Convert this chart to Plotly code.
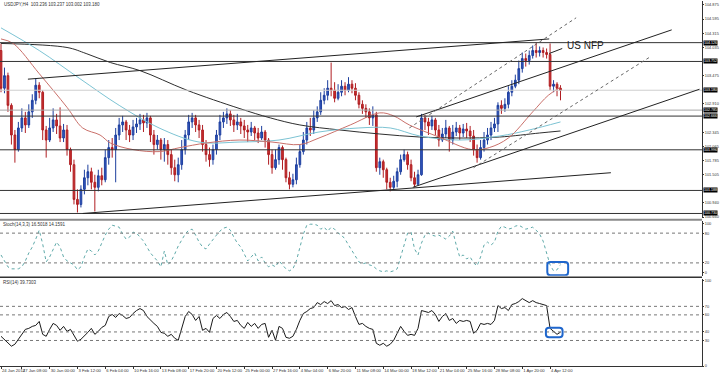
import plotly.graph_objects as go

W, H = 720, 377

# ---------------- price data (USDJPY H4, one candle per two H4 bars) ----------------
opens = [
    103.97, 103.22, 103.47, 102.88, 102.29, 102.00, 102.43, 102.63, 102.49, 102.75,
    102.98, 103.28, 103.14, 102.39, 102.19, 102.43, 102.59, 102.47, 102.23, 102.39,
    102.00, 101.70, 101.01, 100.91, 101.21, 101.44, 101.56, 101.35, 101.25, 101.48,
    101.40, 101.84, 102.04, 102.00, 102.29, 102.49, 102.55, 102.39, 102.29, 102.45,
    102.51, 102.59, 102.53, 102.63, 102.29, 102.10, 102.19, 102.00, 102.10, 101.90,
    101.64, 101.50, 101.70, 102.00, 102.29, 102.55, 102.63, 102.49, 102.39, 102.10,
    101.90, 101.80, 102.00, 102.29, 102.55, 102.63, 102.71, 102.59, 102.49, 102.55,
    102.47, 102.39, 102.35, 102.43, 102.33, 102.23, 102.35, 102.19, 101.90, 101.64,
    101.80, 102.04, 101.80, 101.44, 101.31, 101.40, 101.70, 101.96, 102.19, 102.43,
    102.39, 102.63, 102.75, 102.98, 103.08, 103.22, 103.18, 103.02, 103.14, 103.26,
    103.18, 103.30, 103.22, 103.08, 102.90, 102.82, 102.75, 102.63, 102.69, 101.64,
    101.76, 101.60, 101.35, 101.25, 101.37, 101.56, 101.80, 101.90, 101.70, 101.44,
    101.31, 101.50, 102.63, 102.55, 102.47, 102.59, 102.39, 102.19, 102.31, 102.43,
    102.19, 102.35, 102.43, 102.33, 102.41, 102.37, 102.27, 102.00, 101.84, 102.04,
    102.19, 102.29, 102.43, 102.51, 102.88, 102.82, 102.90, 103.14, 103.26, 103.38,
    103.61, 103.81, 103.77, 103.87, 103.97, 103.93, 103.97, 103.93, 103.89, 103.26,
    103.30, 103.22,
]
highs = [
    104.11, 103.63, 103.53, 102.92, 102.39, 102.55, 102.82, 102.75, 102.90, 103.10,
    103.42, 103.34, 103.18, 102.47, 102.63, 102.82, 102.71, 102.84, 102.51, 102.49,
    102.04, 101.80, 101.21, 101.29, 101.60, 101.70, 101.64, 101.50, 101.60, 101.64,
    102.00, 102.19, 102.23, 102.43, 102.63, 102.67, 102.59, 102.49, 102.59, 102.63,
    102.71, 102.69, 102.73, 102.67, 102.39, 102.29, 102.23, 102.23, 102.19, 102.00,
    101.80, 101.84, 102.19, 102.39, 102.69, 102.73, 102.69, 102.59, 102.49, 102.19,
    102.04, 102.10, 102.39, 102.69, 102.75, 102.82, 102.78, 102.69, 102.71, 102.63,
    102.59, 102.49, 102.55, 102.47, 102.43, 102.47, 102.39, 102.23, 102.00, 102.00,
    102.10, 102.08, 101.84, 101.56, 101.52, 101.84, 102.10, 102.35, 102.55, 102.63,
    102.78, 102.86, 103.14, 103.22, 103.38, 103.73, 103.34, 103.30, 103.38, 103.34,
    103.44, 103.38, 103.32, 103.14, 102.98, 102.90, 102.82, 102.86, 102.75, 101.84,
    101.80, 101.64, 101.44, 101.48, 101.64, 101.90, 102.00, 101.96, 101.80, 101.56,
    101.60, 102.71, 102.69, 102.63, 102.67, 102.63, 102.49, 102.43, 102.59, 102.47,
    102.49, 102.55, 102.49, 102.51, 102.53, 102.47, 102.39, 102.10, 102.19, 102.35,
    102.43, 102.55, 102.63, 102.94, 102.98, 103.02, 103.26, 103.38, 103.49, 103.77,
    103.93, 103.91, 103.97, 104.07, 104.13, 104.05, 104.03, 104.01, 104.11, 103.38,
    103.34, 103.28,
]
lows = [
    103.14, 103.12, 102.75, 102.10, 101.74, 101.96, 102.35, 102.33, 102.43, 102.63,
    102.90, 103.02, 102.19, 101.84, 102.15, 102.35, 102.31, 102.15, 102.15, 101.88,
    101.56, 100.91, 100.75, 100.85, 101.11, 101.29, 101.21, 100.77, 101.17, 101.29,
    101.35, 101.70, 101.84, 101.35, 102.19, 102.35, 102.19, 102.15, 102.19, 102.33,
    102.39, 102.35, 102.43, 102.15, 101.90, 102.00, 101.80, 101.76, 101.70, 101.50,
    101.37, 101.35, 101.60, 101.90, 102.19, 102.43, 102.35, 102.23, 101.96, 101.76,
    101.66, 101.70, 101.90, 102.19, 102.43, 102.51, 102.47, 102.35, 102.39, 102.31,
    102.23, 102.15, 102.27, 102.19, 102.13, 102.19, 102.04, 101.70, 101.52, 101.60,
    101.70, 101.60, 101.35, 101.21, 101.25, 101.31, 101.64, 101.90, 102.10, 102.27,
    102.31, 102.55, 102.69, 102.90, 102.98, 103.06, 102.94, 102.98, 103.06, 103.08,
    103.14, 103.12, 102.98, 102.82, 102.71, 102.63, 102.49, 102.47, 101.56, 101.50,
    101.44, 101.21, 101.17, 101.21, 101.25, 101.50, 101.76, 101.60, 101.37, 101.25,
    101.29, 101.48, 102.39, 102.29, 102.39, 102.29, 102.06, 102.15, 102.23, 101.96,
    102.10, 102.27, 102.19, 102.25, 102.23, 102.15, 101.88, 101.74, 101.80, 101.96,
    102.10, 102.19, 102.35, 102.35, 102.71, 102.75, 102.82, 103.06, 103.22, 103.30,
    103.53, 103.65, 103.69, 103.81, 103.83, 103.85, 103.83, 103.81, 103.18, 103.14,
    103.06, 102.98,
]
closes = [
    103.22, 103.47, 102.88, 102.29, 102.00, 102.43, 102.63, 102.49, 102.75, 102.98,
    103.28, 103.14, 102.39, 102.19, 102.43, 102.59, 102.47, 102.23, 102.39, 102.00,
    101.70, 101.01, 100.91, 101.21, 101.44, 101.56, 101.35, 101.25, 101.48, 101.40,
    101.84, 102.04, 102.00, 102.29, 102.49, 102.55, 102.39, 102.29, 102.45, 102.51,
    102.59, 102.53, 102.63, 102.29, 102.10, 102.19, 102.00, 102.10, 101.90, 101.64,
    101.50, 101.70, 102.00, 102.29, 102.55, 102.63, 102.49, 102.39, 102.10, 101.90,
    101.80, 102.00, 102.29, 102.55, 102.63, 102.71, 102.59, 102.49, 102.55, 102.47,
    102.39, 102.35, 102.43, 102.33, 102.23, 102.35, 102.19, 101.90, 101.64, 101.80,
    102.04, 101.80, 101.44, 101.31, 101.40, 101.70, 101.96, 102.19, 102.43, 102.39,
    102.63, 102.75, 102.98, 103.08, 103.22, 103.18, 103.02, 103.14, 103.26, 103.18,
    103.30, 103.22, 103.08, 102.90, 102.82, 102.75, 102.63, 102.69, 101.64, 101.76,
    101.60, 101.35, 101.25, 101.37, 101.56, 101.80, 101.90, 101.70, 101.44, 101.31,
    101.50, 102.63, 102.55, 102.47, 102.59, 102.39, 102.19, 102.31, 102.43, 102.19,
    102.35, 102.43, 102.33, 102.41, 102.37, 102.27, 102.00, 101.84, 102.04, 102.19,
    102.29, 102.43, 102.51, 102.88, 102.82, 102.90, 103.14, 103.26, 103.38, 103.61,
    103.81, 103.77, 103.87, 103.97, 103.93, 103.97, 103.93, 103.89, 103.26, 103.30,
    103.22, 103.18,
]

# ---------------- indicator data ----------------
stoch_main = [
    36, 24, 12, 8, 8, 8, 12, 24, 40, 52,
    68, 86, 58, 22, 32, 48, 62, 52, 32, 24,
    20, 16, 6, 12, 32, 48, 44, 36, 44, 60,
    76, 88, 96, 94, 92, 78, 68, 72, 82, 80,
    72, 64, 52, 40, 32, 24, 12, 44, 16, 24,
    38, 54, 66, 78, 86, 88, 76, 62, 52, 48,
    58, 68, 76, 84, 90, 92, 86, 72, 60, 52,
    38, 24, 32, 40, 24, 32, 20, 12, 16, 12,
    24, 16, 8, 4, 8, 24, 52, 78, 96, 98,
    98, 96, 88, 92, 84, 92, 88, 80, 76, 68,
    56, 44, 32, 22, 18, 20, 16, 14, 8, 4,
    2, 4, 2, 4, 8, 32, 60, 80, 82, 48,
    36, 60, 76, 80, 76, 74, 76, 72, 68, 74,
    84, 56, 32, 36, 28, 32, 20, 14, 32, 56,
    62, 56, 62, 84, 94, 92, 88, 90, 94, 96,
    92, 88, 90, 92, 86, 78, 64, 40, 16, 4,
    6, 16.5,
]
rsi_vals = [
    34.9, 31.4, 27.9, 23.3, 25.6, 31.4, 37.2, 43.0, 44.2, 46.5,
    47.7, 52.3, 37.2, 34.9, 43.0, 50.0, 47.7, 41.9, 46.5, 40.7,
    43.0, 36.0, 29.1, 31.4, 34.9, 39.5, 44.2, 37.2, 40.7, 45.3,
    47.7, 58.1, 60.5, 57.0, 61.6, 59.3, 55.8, 57.0, 61.6, 65.1,
    67.4, 65.1, 58.1, 53.5, 50.0, 46.5, 39.5, 38.4, 34.9, 37.2,
    32.6, 30.2, 44.2, 58.1, 64.0, 60.5, 53.5, 58.1, 41.9, 44.2,
    39.5, 55.8, 59.3, 55.8, 60.5, 62.8, 58.1, 52.3, 53.5, 47.7,
    44.2, 51.2, 46.5, 50.0, 44.2, 48.8, 50.0, 33.7, 41.9, 30.2,
    46.5, 44.2, 33.7, 32.6, 34.9, 43.0, 53.5, 61.6, 64.0, 67.4,
    68.6, 74.4, 72.1, 75.6, 73.3, 76.7, 70.9, 72.1, 68.6, 69.8,
    66.3, 68.6, 58.1, 48.8, 50.0, 46.5, 44.2, 43.0, 26.7, 24.4,
    26.7, 23.3, 25.6, 30.2, 38.4, 46.5, 40.7, 36.0, 37.2, 36.0,
    44.2, 65.1, 64.0, 62.8, 65.1, 60.5, 52.3, 58.1, 61.6, 53.5,
    55.8, 50.0, 53.5, 52.3, 53.5, 52.3, 38.4, 41.9, 50.0, 48.8,
    50.0, 48.8, 53.5, 70.9, 67.4, 68.6, 65.1, 72.1, 73.3, 75.6,
    79.1, 76.7, 74.4, 76.7, 74.4, 73.3, 72.1, 70.9, 44.2, 40.7,
    37.2, 39.73,
]

# moving averages (sampled: H4 bar number, price)
ma_slow_k = [0, 38, 49, 63, 80, 107, 137, 155, 172, 195, 218, 241, 264, 287, 310, 322]
ma_slow_p = [104.11, 104.03, 103.91, 103.73, 103.57, 103.18, 102.82, 102.63, 102.49,
             102.39, 102.31, 102.25, 102.23, 102.25, 102.33, 102.37]
ma_mid_k = [0, 22, 45, 68, 91, 114, 137, 160, 183, 206, 224, 241, 264, 287, 304, 322]
ma_mid_p = [104.42, 103.97, 103.42, 102.88, 102.43, 102.15, 102.15, 102.19, 102.35,
            102.43, 102.43, 102.27, 102.19, 102.27, 102.39, 102.55]
ma_fast_k = [0, 7, 22, 38, 47, 57, 63, 76, 91, 103, 118, 137, 156, 172, 183, 201, 218,
             226, 235, 252, 271, 281, 292, 306, 315, 322]
ma_fast_p = [104.20, 104.11, 103.51, 102.84, 102.43, 102.29, 102.13, 102.00, 101.96,
             102.04, 102.13, 102.19, 102.15, 102.10, 102.23, 102.49, 102.73, 102.67,
             102.49, 102.25, 102.00, 102.04, 102.23, 102.75, 103.08, 103.24]

# horizontal levels and their labels
level_prices = [104.126, 103.752, 103.180, 102.785, 102.666, 101.996, 101.188, 100.730]
level_labels = ["104.126", "103.752", "103.180", "102.785", "102.666", "101.996", "101.188", "100.730"]

# trend lines: (bar0, price0, bar1, price1)
solid_trends = [
    (15.5, 103.40, 315.5, 104.20),
    (239.0, 102.65, 386.0, 104.38),
    (237.0, 101.25, 402.0, 103.20),
    (47.0, 100.73, 351.0, 101.54),
]
dotted_trends = [
    (235.0, 102.43, 331.0, 104.62),
    (272.0, 101.64, 373.0, 103.83),
]
nfp_pointer = (315.5, 103.91, 323.0, 104.01)

# axis scale labels that remain visible beside the highlighted level labels
price_ticks = [104.875, 104.595, 104.315, 104.035, 103.475, 102.910,
               102.345, 102.065, 101.785, 101.505, 100.940, 100.660]
time_tick_bars = [0, 12, 28, 44, 60, 76, 92, 108, 124, 140, 156, 172, 188, 204, 220,
                  236, 252, 268, 284, 300, 316]
time_tick_labels = ["24 Jan 2014", "27 Jan 08:00", "30 Jan 00:00", "3 Feb 12:00",
                    "6 Feb 04:00", "10 Feb 16:00", "13 Feb 08:00", "17 Feb 20:00",
                    "20 Feb 12:00", "25 Feb 00:00", "27 Feb 16:00", "4 Mar 04:00",
                    "6 Mar 20:00", "11 Mar 08:00", "14 Mar 00:00", "18 Mar 12:00",
                    "21 Mar 04:00", "25 Mar 16:00", "28 Mar 08:00", "1 Apr 20:00",
                    "4 Apr 12:00"]
stoch_levels = [20, 80]
rsi_levels = [30, 40, 60, 70]
# highlight boxes: (bar0, bar1, value0, value1)
stoch_box = (314.4, 326.4, -5, 22)
rsi_box = (313.6, 323.2, 33.7, 45.0)

bar_pos = [2 * i for i in range(len(closes))]

FONT = "Arial, Liberation Sans, sans-serif"
TXT = "#333333"

def pfrac(ypx):
    return 1 - ypx / H

fig = go.Figure()

# MAs
fig.add_trace(go.Scatter(x=ma_slow_k, y=ma_slow_p, mode="lines", xaxis="x", yaxis="y",
                         line=dict(color="#2e2e2e", width=1, shape="spline"), hoverinfo="skip"))
fig.add_trace(go.Scatter(x=ma_mid_k, y=ma_mid_p, mode="lines", xaxis="x", yaxis="y",
                         line=dict(color="#7cc3d3", width=1, shape="spline"), hoverinfo="skip"))
fig.add_trace(go.Scatter(x=ma_fast_k, y=ma_fast_p, mode="lines", xaxis="x", yaxis="y",
                         line=dict(color="#c9706a", width=1, shape="spline"), hoverinfo="skip"))

fig.add_trace(go.Candlestick(
    x=bar_pos, open=opens, high=highs, low=lows, close=closes, xaxis="x", yaxis="y",
    increasing=dict(line=dict(color="#1d3f9e", width=1), fillcolor="#3557c0"),
    decreasing=dict(line=dict(color="#b01e22", width=1), fillcolor="#c8302f"),
    whiskerwidth=0, hoverinfo="skip"))

fig.add_trace(go.Scatter(x=bar_pos, y=stoch_main, mode="lines", xaxis="x2", yaxis="y2",
                         line=dict(color="#5fa9a9", width=1, dash="dot"), hoverinfo="skip"))
fig.add_trace(go.Scatter(x=bar_pos, y=rsi_vals, mode="lines", xaxis="x3", yaxis="y3",
                         line=dict(color="#1a1a1a", width=1), hoverinfo="skip"))

shapes = []
dark_levels = {0, 1, 4, 5, 6, 7}
for i, lv in enumerate(level_prices):
    col = "#333333" if i in dark_levels else ("#cfcfcf" if i == 2 else "#a8a8a8")
    shapes.append(dict(type="line", xref="x domain", yref="y", x0=0, x1=1, y0=lv, y1=lv,
                       line=dict(color=col, width=1)))
for (k0, p0, k1, p1) in solid_trends:
    shapes.append(dict(type="line", xref="x", yref="y", x0=k0, y0=p0, x1=k1, y1=p1,
                       line=dict(color="#222222", width=1)))
for (k0, p0, k1, p1) in dotted_trends:
    shapes.append(dict(type="line", xref="x", yref="y", x0=k0, y0=p0, x1=k1, y1=p1,
                       line=dict(color="#666666", width=1, dash="dot")))
k0, p0, k1, p1 = nfp_pointer
shapes.append(dict(type="line", xref="x", yref="y", x0=k0, y0=p0, x1=k1, y1=p1,
                   line=dict(color="#222222", width=1)))
for lv in stoch_levels:
    shapes.append(dict(type="line", xref="x2 domain", yref="y2", x0=0, x1=1, y0=lv, y1=lv,
                       line=dict(color="#777777", width=1, dash="dot")))
for lv in rsi_levels:
    shapes.append(dict(type="line", xref="x3 domain", yref="y3", x0=0, x1=1, y0=lv, y1=lv,
                       line=dict(color="#777777", width=1, dash="dot")))

def rounded(box, rx, ry):
    x0, x1, y0, y1 = box
    return (f"M {x0+rx},{y0} L {x1-rx},{y0} Q {x1},{y0} {x1},{y0+ry} L {x1},{y1-ry} "
            f"Q {x1},{y1} {x1-rx},{y1} L {x0+rx},{y1} Q {x0},{y1} {x0},{y1-ry} "
            f"L {x0},{y0+ry} Q {x0},{y0} {x0+rx},{y0} Z")

shapes.append(dict(type="path", xref="x2", yref="y2", path=rounded(stoch_box, 1.8, 6),
                   line=dict(color="#1f66cc", width=2)))
shapes.append(dict(type="path", xref="x3", yref="y3", path=rounded(rsi_box, 1.8, 3.5),
                   line=dict(color="#1f66cc", width=2)))

# panel separators
shapes.append(dict(type="line", xref="paper", yref="paper", x0=0, x1=703 / W,
                   y0=pfrac(220.5), y1=pfrac(220.5), line=dict(color="#8a8a8a", width=2)))
shapes.append(dict(type="line", xref="paper", yref="paper", x0=0, x1=703 / W,
                   y0=pfrac(278.5), y1=pfrac(278.5), line=dict(color="#333333", width=1.5)))

annotations = []
for lv, txt in zip(level_prices, level_labels):
    annotations.append(dict(xref="paper", yref="y", x=704 / W, y=lv, xanchor="left",
                            yanchor="middle", text=txt, showarrow=False, bgcolor="#000000",
                            font=dict(family=FONT, size=3.6, color="#ffffff"), borderpad=0))
annotations.append(dict(xref="paper", yref="paper", x=2 / W, y=pfrac(4), xanchor="left",
                        yanchor="middle", showarrow=False,
                        text="USDJPY,H4  103.236 103.237 103.002 103.180",
                        font=dict(family=FONT, size=4.5, color=TXT)))
annotations.append(dict(xref="paper", yref="paper", x=1 / W, y=pfrac(225), xanchor="left",
                        yanchor="middle", showarrow=False,
                        text="Stoch(14,3,3) 16.5018 14.1591",
                        font=dict(family=FONT, size=4.5, color=TXT)))
annotations.append(dict(xref="paper", yref="paper", x=1 / W, y=pfrac(283.5), xanchor="left",
                        yanchor="middle", showarrow=False, text="RSI(14) 39.7303",
                        font=dict(family=FONT, size=4.5, color=TXT)))
annotations.append(dict(xref="x", yref="y", x=324.5, y=104.06, xanchor="left",
                        yanchor="middle", showarrow=False, text="US NFP",
                        font=dict(family=FONT, size=10, color="#222222")))

xr = [-0.575, 403.45]
xdom = [0, 703 / W]
small = dict(family=FONT, size=3.9, color=TXT)
xsmall = dict(family=FONT, size=4.2, color=TXT)

fig.update_layout(
    width=W, height=H, margin=dict(l=0, r=0, t=0, b=0),
    paper_bgcolor="#ffffff", plot_bgcolor="#ffffff", showlegend=False,
    shapes=shapes, annotations=annotations, hovermode=False,
    xaxis=dict(domain=xdom, range=xr, anchor="y", showgrid=False, zeroline=False,
               showticklabels=False, rangeslider=dict(visible=False), fixedrange=True),
    xaxis2=dict(domain=xdom, range=xr, anchor="y2", showgrid=False, zeroline=False,
                showticklabels=False, fixedrange=True),
    xaxis3=dict(domain=xdom, range=xr, anchor="y3", showgrid=False, zeroline=False,
                tickmode="array", tickvals=time_tick_bars, ticktext=time_tick_labels,
                ticks="outside", ticklen=2, tickcolor="#333333", tickangle=0,
                ticklabelposition="outside right", tickfont=xsmall,
                showline=True, linecolor="#333333", linewidth=1, fixedrange=True),
    yaxis=dict(domain=[pfrac(219), 1], range=[100.635, 104.954], anchor="x", side="right",
               showgrid=False, zeroline=False, tickmode="array", tickvals=price_ticks,
               ticktext=[f"{v:.3f}" for v in price_ticks], ticks="outside", ticklen=1,
               tickcolor="#333333", tickfont=small, showline=True, linecolor="#333333",
               linewidth=1, fixedrange=True, ticklabelstandoff=0),
    yaxis2=dict(domain=[pfrac(277), pfrac(222)], range=[-6, 104], anchor="x2", side="right",
                showgrid=False, zeroline=False, tickmode="array", tickvals=[0, 20, 80, 100],
                ticks="outside", ticklen=1, tickcolor="#333333", tickfont=small,
                showline=True, linecolor="#333333", linewidth=1, fixedrange=True),
    yaxis3=dict(domain=[pfrac(368), pfrac(280)], range=[0, 102.33], anchor="x3", side="right",
                showgrid=False, zeroline=False, tickmode="array",
                tickvals=[0, 30, 40, 60, 70, 100], ticks="outside", ticklen=1,
                tickcolor="#333333", tickfont=small, showline=True, linecolor="#333333",
                linewidth=1, fixedrange=True),
)

fig.write_html("out.html", config={"displayModeBar": False},
               post_script="document.body.style.margin='0';document.body.style.overflow='hidden';")
